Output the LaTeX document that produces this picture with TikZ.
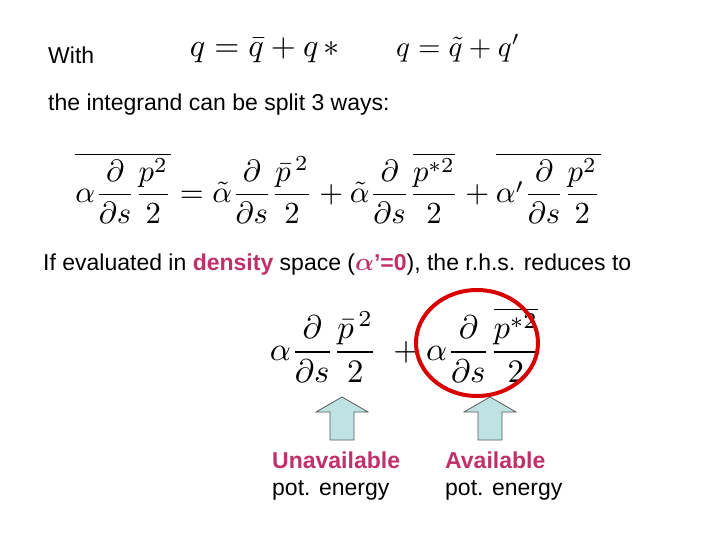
\documentclass[tikz,border=0pt]{standalone}
\usepackage{graphicx}
\usepackage{amsmath,amssymb}
\usepackage{fontspec}
\setmainfont{Liberation Sans}
\definecolor{mag}{HTML}{C0306A}
\definecolor{arrfill}{HTML}{BFE3E3}
\tikzset{txt/.style={anchor=west,inner sep=0pt,font=\fontsize{23}{27}\selectfont},
 eq/.style={inner sep=0pt},
 blockarr/.style={fill=arrfill,draw=gray!70!black,line width=0.8pt}}
\newcommand{\dds}{\frac{\partial}{\partial s}}
\begin{document}
\begin{tikzpicture}[x=1pt,y=-1pt]
\useasboundingbox (0,0) rectangle (720,540);
\node[txt] (with) at (48,55) {With};
\node[eq] (e1) at (265,50) {\resizebox{150pt}{!}{$q=\bar q+q\,{*}$}};
\node[eq] (e2) at (458,48) {\resizebox{124pt}{!}{$q=\tilde q+q'$}};
\node[txt] (t2) at (48,105) {the integrand can be split 3 ways:};
\node[eq] (e3) at (338,188) {\resizebox{525pt}{!}{$\displaystyle
 \overline{\alpha\dds\frac{p^2}{2}}=\tilde\alpha\dds\frac{\bar p^{\,2}}{2}+\tilde\alpha\dds\frac{\overline{p^{*2}}}{2}+\overline{\alpha'\dds\frac{p^2}{2}}$}};
\node[txt] (t3) at (43,265) {If evaluated in \textbf{\color{mag}density} space (\textbf{\color{mag}$\boldsymbol{\alpha}$’=0}), the r.h.s. reduces to};
\node[eq] (e4) at (406,345) {\resizebox{272pt}{!}{$\displaystyle
 \alpha\dds\frac{\bar p^{\,2}}{2}\;+\alpha\dds\frac{\overline{p^{*2}}}{2}$}};
\draw[red!85!black,line width=4pt] (477,343) ellipse (61 and 53);
\draw[blockarr] (330,440) -- (330,412) -- (316,412) -- (342,397) -- (368,412) -- (354,412) -- (354,440) -- cycle;
\draw[blockarr] (478,440) -- (478,412) -- (464,412) -- (490,397) -- (516,412) -- (502,412) -- (502,440) -- cycle;
\node[txt,align=left,anchor=north west] (l1) at (272,452) {\textbf{\color{mag}Unavailable}\\pot. energy};
\node[txt,align=left,anchor=north west] (l2) at (445,452) {\textbf{\color{mag}Available}\\pot. energy};
\end{tikzpicture}
\end{document}
